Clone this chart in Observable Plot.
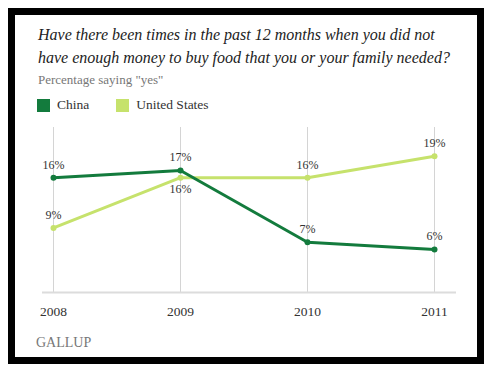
<!DOCTYPE html>
<html>
<head>
<meta charset="utf-8">
<script src="https://cdn.jsdelivr.net/npm/d3@7"></script>
<script src="https://cdn.jsdelivr.net/npm/@observablehq/plot@0.6"></script>
<style>
  html, body { margin: 0; padding: 0; background: #fff; }
  #page { position: relative; width: 495px; height: 374px; overflow: hidden; background: #fff; font-family: 'Liberation Serif', serif; }
  #frame { position: absolute; left: 8px; top: 8px; width: 462px; height: 342px; border: 7px solid #000; }
  .t { position: absolute; white-space: nowrap; font-family: 'Liberation Serif', serif; }
  #title { left: 38px; top: 23px; font-size: 16px; font-style: italic; color: #222; line-height: 23px; }
  #subtitle { left: 38px; top: 72px; font-size: 13px; color: #777; }
  #legend { left: 37px; top: 97px; font-size: 13.5px; color: #333; display: flex; align-items: center; }
  .sw { display: inline-block; width: 13px; height: 13px; margin-right: 7px; }
  #gallup { left: 36px; top: 335px; font-size: 14px; color: #777; }
  #chart { position: absolute; left: 0; top: 120px; }
</style>
</head>
<body>
<div id="page">
  <div id="frame"></div>
  <div class="t" id="title"></div>
  <div class="t" id="subtitle"></div>
  <div class="t" id="legend"></div>
  <div id="chart"></div>
  <div class="t" id="gallup">GALLUP</div>
</div>
<script>
const years = [2008, 2009, 2010, 2011];
const china = [16, 17, 7, 6];
const unitedStates = [9, 16, 16, 19];
const seriesNames = ["China", "United States"];
const seriesColors = ["#137b3d", "#c6e26c"];
const titleLines = [
  "Have there been times in the past 12 months when you did not",
  "have enough money to buy food that you or your family needed?"
];
const subtitleText = 'Percentage saying "yes"';

document.getElementById("title").innerHTML = titleLines.join("<br>");
document.getElementById("subtitle").textContent = subtitleText;
const legend = document.getElementById("legend");
seriesNames.forEach((n, i) => {
  const sw = document.createElement("span");
  sw.className = "sw";
  sw.style.background = seriesColors[i];
  legend.appendChild(sw);
  const lab = document.createElement("span");
  lab.textContent = n;
  lab.style.marginRight = i === 0 ? "27px" : "0";
  legend.appendChild(lab);
});

const data = [];
years.forEach((y, i) => data.push({year: y, value: unitedStates[i], series: "United States"}));
years.forEach((y, i) => data.push({year: y, value: china[i], series: "China"}));

const isBelow = d => d.series === "United States" && d.year === 2009;
const serifFont = "'Liberation Serif', serif";

const chart = Plot.plot({
  width: 495,
  height: 210,
  marginLeft: 53,
  marginRight: 61,
  marginTop: 7,
  marginBottom: 38,
  style: { fontFamily: serifFont, fontSize: "13px", color: "#333", background: "transparent" },
  x: { domain: [2008, 2011], label: null },
  y: { domain: [0, 23], axis: null },
  color: { domain: seriesNames, range: seriesColors },
  marks: [
    Plot.ruleX(years, { y1: 0, y2: 23, stroke: "#d4d4d4", strokeWidth: 1 }),
    Plot.ruleY([0], { stroke: "#dcdcdc", strokeWidth: 2, insetLeft: -11, insetRight: -22 }),
    Plot.lineY(data.filter(d => d.series === "United States"), { x: "year", y: "value", stroke: "series", strokeWidth: 3 }),
    Plot.dot(data.filter(d => d.series === "United States"), { x: "year", y: "value", fill: "series", r: 3 }),
    Plot.lineY(data.filter(d => d.series === "China"), { x: "year", y: "value", stroke: "series", strokeWidth: 3 }),
    Plot.dot(data.filter(d => d.series === "China"), { x: "year", y: "value", fill: "series", r: 3 }),
    Plot.text(data.filter(d => !isBelow(d)), { x: "year", y: "value", text: d => d.value + "%", dy: -13, fill: "#333", fontSize: 12, fontFamily: serifFont }),
    Plot.text(data.filter(isBelow), { x: "year", y: "value", text: d => d.value + "%", dy: 11, fill: "#333", fontSize: 12, fontFamily: serifFont }),
    Plot.axisX({ ticks: years, tickFormat: d => String(d), tickSize: 0, tickPadding: 14, fontSize: 13.5, fontFamily: serifFont, label: null })
  ]
});
document.getElementById("chart").appendChild(chart);
</script>
</body>
</html>
